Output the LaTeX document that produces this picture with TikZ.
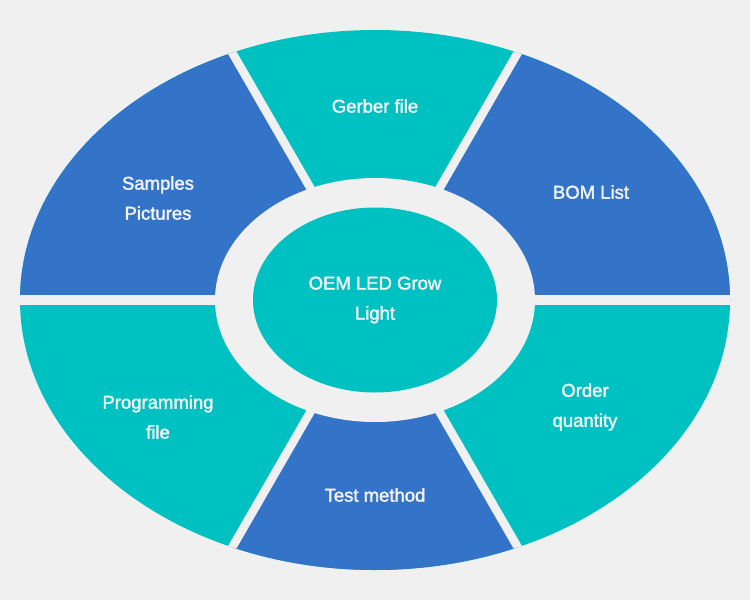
\documentclass[tikz,border=0pt]{standalone}
\usepackage{fontspec}
\setmainfont{Liberation Sans}
\newfontfamily\lblfont{Liberation Sans}[FakeBold=2]
\usetikzlibrary{shapes.geometric}
\definecolor{bg}{HTML}{F0F0F0}
\definecolor{segblue}{HTML}{3373C8}
\definecolor{segteal}{HTML}{00C1C1}
\definecolor{txt}{HTML}{F2F2F2}
\tikzset{
  lbl/.style={text=txt, align=center, font=\lblfont\fontsize{18.5}{30}\selectfont, inner sep=0pt},
  gapline/.style={draw=bg, line width=#1},
}
\begin{document}
\begin{tikzpicture}[x=1pt, y=-1pt]
\fill[bg] (0,0) rectangle (750,600);
\useasboundingbox (0,0) rectangle (750,600);
\begin{scope}
  \clip (375,300) ellipse [x radius=355pt, y radius=270pt];
  \fill[segteal] (0,0) rectangle (750,600);
  \fill[segblue] (375,300) -- (125,-133) -- (-125,-133) -- (-125,300) -- cycle;
  \fill[segblue] (375,300) -- (625,-133) -- (875,-133) -- (875,300) -- cycle;
  \fill[segblue] (375,300) -- (125,733) -- (625,733) -- cycle;
  \draw[gapline=10pt] (-125,300) -- (875,300);
  \draw[gapline=8.5pt] (125,-133) -- (625,733);
  \draw[gapline=8.5pt] (625,-133) -- (125,733);
\end{scope}
\fill[bg] (375,300) ellipse [x radius=160pt, y radius=122pt];
\node[ellipse, fill=segteal, minimum width=244pt, minimum height=185pt, inner sep=0pt] (core) at (375,300) {};
\node[lbl] (oem) at (core.center) {OEM LED Grow\\Light};
\node[lbl] (gerber) at (375,106) {Gerber file};
\node[lbl] (samples) at (158,198) {Samples\\Pictures};
\node[lbl] (bom) at (591,192) {BOM List};
\node[lbl] (prog) at (158,417) {Programming\\file};
\node[lbl] (order) at (585,407) {Order\\quantity};
\node[lbl] (test) at (375,495) {Test method};
\end{tikzpicture}
\end{document}
